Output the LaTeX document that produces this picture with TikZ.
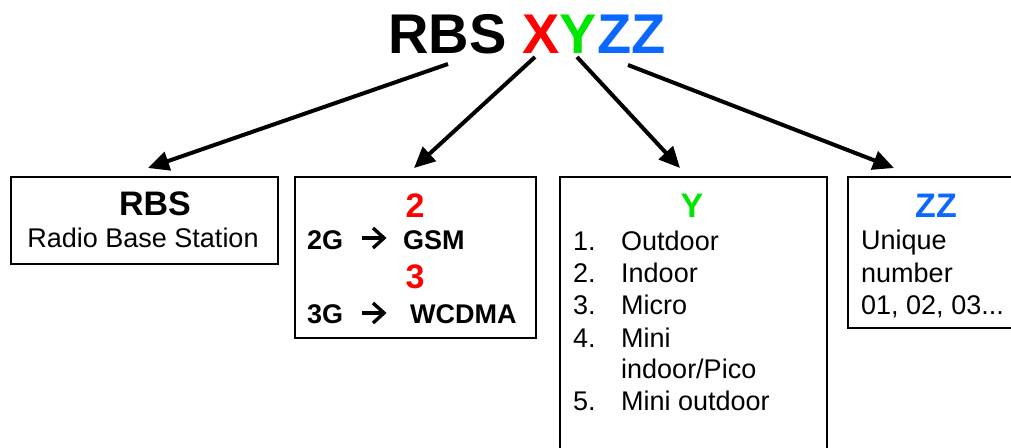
\documentclass[tikz,border=0pt]{standalone}
\usepackage{fontspec}
\setmainfont{Liberation Sans}
\usetikzlibrary{arrows.meta}
\definecolor{xred}{RGB}{255,0,0}
\definecolor{ygreen}{RGB}{0,230,0}
\definecolor{zblue}{RGB}{10,104,255}
\tikzset{
  box/.style={draw=black, line width=2pt, anchor=north west, inner sep=0pt},
  txt/.style={inner sep=0pt, anchor=base west, font=\fontsize{27}{32}\selectfont},
  btxt/.style={txt, font=\fontsize{27}{32}\selectfont\bfseries},
  head/.style={inner sep=0pt, anchor=base, font=\fontsize{34}{40}\selectfont\bfseries},
  link/.style={line width=4pt, -{Triangle[length=21pt,width=19pt]}},
  glyph/.style={line width=3.4pt, line join=miter, line cap=butt}
}
\begin{document}
\begin{tikzpicture}[x=1pt,y=-1pt]
\useasboundingbox (0,0) rectangle (1011,447);
\clip (0,0) rectangle (1011,447);

% title
\node[inner sep=0pt, anchor=base, font=\fontsize{56}{60}\selectfont\bfseries] (title) at (527,53)
  {RBS {\color{xred}X}{\color{ygreen}Y}{\color{zblue}ZZ}};

% boxes
\node[box, minimum width=267pt, minimum height=87pt] (b1) at (10,176) {};
\node[box, minimum width=241pt, minimum height=161pt] (b2) at (294,176) {};
\node[box, minimum width=267pt, minimum height=300pt] (b3) at (559,176) {};
\node[box, minimum width=200pt, minimum height=151pt] (b4) at (847,176) {};

% arrow ends
\coordinate (s1) at (448,64);
\coordinate (s2) at (535,57);
\coordinate (s3) at (577,57);
\coordinate (s4) at (628,65);
\coordinate (e1) at (148,168);
\coordinate (e2) at (414,168);
\coordinate (e3) at (680,168);
\coordinate (e4) at (894,168);
\draw[link] (s1) -- (e1);
\draw[link] (s2) -- (e2);
\draw[link] (s3) -- (e3);
\draw[link] (s4) -- (e4);

% box 1
\node[head] (h1) at (155,215) {RBS};
\node[txt, anchor=base] (r1) at (143,247) {Radio Base Station};

% box 2
\node[head, text=xred] (h2) at (415,217) {2};
\node[btxt] (g2) at (307,249) {2G};
\node[btxt] (gsm) at (403,249) {GSM};
\node[head, text=xred] (h3) at (415,288) {3};
\node[btxt] (g3) at (307,323) {3G};
\node[btxt] (wcdma) at (410,323) {WCDMA};
% arrow glyphs between the generation and the standard
\draw[glyph] (362,238) -- (383,238);
\draw[glyph] (373,228) -- (384,238) -- (373,248);
\draw[glyph] (362,313) -- (383,313);
\draw[glyph] (373,303) -- (384,313) -- (373,323);

% box 3
\node[head, text=ygreen] (hy) at (692,217) {Y};
\node[txt] (n1) at (573,250) {1.};
\node[txt] (l1) at (621,250) {Outdoor};
\node[txt] (n2) at (573,282) {2.};
\node[txt] (l2) at (621,282) {Indoor};
\node[txt] (n3) at (573,314) {3.};
\node[txt] (l3) at (621,314) {Micro};
\node[txt] (n4) at (573,347) {4.};
\node[txt] (l4) at (621,347) {Mini};
\node[txt] (l4b) at (621,378) {indoor/Pico};
\node[txt] (n5) at (573,410) {5.};
\node[txt] (l5) at (621,410) {Mini outdoor};

% box 4
\node[head, text=zblue] (hz) at (936,217) {ZZ};
\node[txt] (u1) at (861,249) {Unique};
\node[txt] (u2) at (861,282) {number};
\node[txt] (u3) at (861,314) {01, 02, 03...};
\end{tikzpicture}
\end{document}
